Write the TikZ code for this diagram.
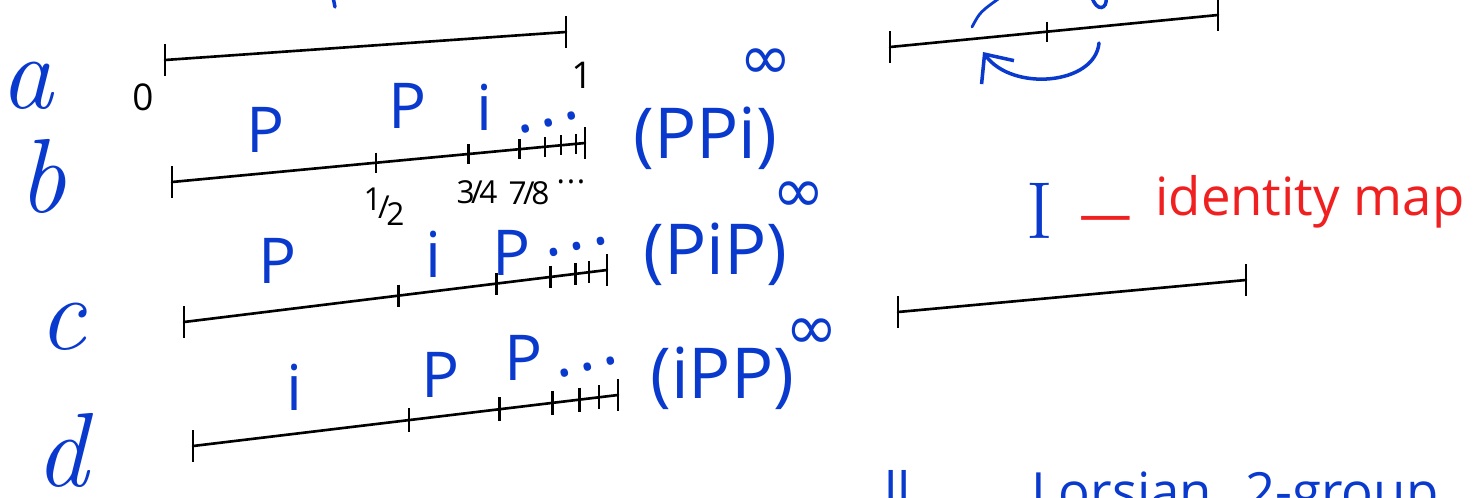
\documentclass[tikz,border=0pt]{standalone}
\usepackage{fontspec}
\usepackage{tikz}
\usetikzlibrary{calc,arrows.meta}
\newfontfamily\handfont{Open Sans}
\newfontfamily\glyphfont{DejaVu Sans}
\definecolor{inkblue}{RGB}{10,58,205}
\definecolor{inkred}{RGB}{240,32,32}

\begin{document}
\begin{tikzpicture}[
    x=0.02cm, y=-0.02cm,
    interval/.style={line width=1.5pt, line cap=round},
    tickbar/.style={line width=1.5pt},
    rowname/.style={text=inkblue, font=\fontsize{60}{60}\selectfont\itshape, inner sep=0pt, anchor=base},
    letter/.style={text=inkblue, font=\fontsize{36}{36}\handfont, inner sep=0pt, anchor=base},
    dotrow/.style={text=inkblue, font=\fontsize{36}{36}\handfont, inner sep=0pt, anchor=base},
    number/.style={font=\fontsize{21}{21}\handfont, inner sep=0pt, anchor=base},
    fraction/.style={font=\fontsize{18}{18}\handfont, inner sep=0pt, anchor=base},
    word/.style={text=inkblue, font=\fontsize{40}{40}\handfont, inner sep=0pt, anchor=base west},
    power/.style={text=inkblue, font=\fontsize{36}{36}\glyphfont, inner sep=0pt},
    pen/.style={draw=inkblue, line width=2pt, line cap=round}
]
\useasboundingbox (0,0) rectangle (1473,497);
\fill[white] (0,0) rectangle (1473,497);
\clip (0,0) rectangle (1473,497);

% intervals
\coordinate (a0) at (165,60);
\coordinate (a1) at (566,32);
\coordinate (b0) at (172,182);
\coordinate (b1) at (585,143);
\coordinate (c0) at (184,322);
\coordinate (c1) at (607,270);
\coordinate (d0) at (193,446);
\coordinate (d1) at (618,395);
\coordinate (e0) at (890,47);
\coordinate (e1) at (1218,15);
\coordinate (f0) at (898,312);
\coordinate (f1) at (1246,280);

\foreach \s in {a,b,c,d,e,f}
    \draw[interval] (\s0) -- (\s1);
\foreach \p in {a0,a1,b0,b1,c0,c1,d0,d1,e0,e1,f0,f1}
    \draw[tickbar] ($(\p)+(0,-16)$) -- ($(\p)+(0,16)$);

% dyadic ticks
\foreach \t in {0.494,0.718,0.842,0.903,0.942,0.978}
    \draw[tickbar] ($(b0)!\t!(b1)+(0,-10)$) -- ($(b0)!\t!(b1)+(0,10)$);
\foreach \t in {0.507,0.738,0.867,0.926,0.957}
    \draw[tickbar] ($(c0)!\t!(c1)+(0,-11)$) -- ($(c0)!\t!(c1)+(0,11)$);
\foreach \t in {0.508,0.721,0.846,0.910,0.955}
    \draw[tickbar] ($(d0)!\t!(d1)+(0,-12)$) -- ($(d0)!\t!(d1)+(0,12)$);
\draw[tickbar] ($(e0)!0.479!(e1)+(0,-10)$) -- ($(e0)!0.479!(e1)+(0,10)$);

% row names
\node[rowname] (rowa) at (27,108) {a};
\node[rowname] (rowb) at (42,212) {b};
\node[rowname] (rowc) at (62,349) {c};
\node[rowname] (rowd) at (62,486) {d};

% numbers
\node[number] (zero) at (143,110) {0};
\node[number] (one) at (582,88) {1};
\node[fraction] (half) at (384,218) {\raisebox{4pt}{1}\kern-2pt/\kern-2pt\raisebox{-4pt}{2}};
\node[fraction] (threeq) at (477,203) {3\kern-2pt/\kern-2pt4};
\node[fraction] (sevenq) at (529,204) {7\kern-2pt/\kern-2pt8};
\node[fraction] (tail) at (571,183) {.\kern1pt.\kern1pt.};

% letters on b
\node[letter] (bp1) at (266,152) {P};
\node[letter] (bp2) at (408,128) {P};
\node[letter] (bi) at (484,130) {i};
\node[dotrow, rotate=16] (bdots) at (550,126) {.\kern4pt.\kern4pt.};

% letters on c
\node[letter] (cp1) at (278,283) {P};
\node[letter] (ci) at (433,277) {i};
\node[letter] (cp2) at (512,275) {P};
\node[dotrow, rotate=13] (cdots) at (578,250) {.\kern4pt.\kern4pt.};

% letters on d
\node[letter] (di) at (294,410) {i};
\node[letter] (dp1) at (441,397) {P};
\node[letter] (dp2) at (524,380) {P};
\node[dotrow, rotate=15] (ddots) at (589,370) {.\kern4pt.\kern4pt.};

% words
\node[word] (ppi) at (633,158) {(PPi)};
\node[power] (ppiinf) at (766,64) {∞};
\node[word] (pip) at (643,274) {(PiP)};
\node[power] (pipinf) at (799,197) {∞};
\node[word] (ipp) at (650,398) {(iPP)};
\node[power] (ippinf) at (812,334) {∞};

% identity
\node[text=inkblue, font=\fontsize{46}{46}\selectfont, inner sep=0pt, anchor=base] (idI) at (1040,238) {I};
\node[text=inkred, font=\fontsize{30}{30}\handfont, inner sep=0pt, anchor=base] (iddash) at (1106,232) {—};
\node[text=inkred, font=\fontsize{30}{30}\handfont, inner sep=0pt, anchor=base west] (idwords) at (1155,215) {identity map};

% bottom line, cut off
\node[text=inkblue, font=\fontsize{30}{30}\handfont, inner sep=0pt, anchor=base west] (botl) at (884,510) {ll};
\node[text=inkblue, font=\fontsize{30}{30}\handfont, inner sep=0pt, anchor=base west] (botw) at (1031,510) {Lorsian};
\node[text=inkblue, font=\fontsize{30}{30}\handfont, inner sep=0pt, anchor=base west] (botg) at (1245,510) {2-group};

% pen strokes and the swap arrow
\draw[pen] (333,-3) -- (335,7);
\draw[pen, line width=1.6pt] (972,27) .. controls (980,12) .. (1001,-3);
\draw[pen] (1092,-3) .. controls (1096,12) and (1108,10) .. (1106,-3);
\draw[pen, -{Straight Barb[length=0.45cm, width=0.8cm]}] (1099,43) .. controls (1095,85) and (1012,92) .. (983,52);
\end{tikzpicture}
\end{document}
